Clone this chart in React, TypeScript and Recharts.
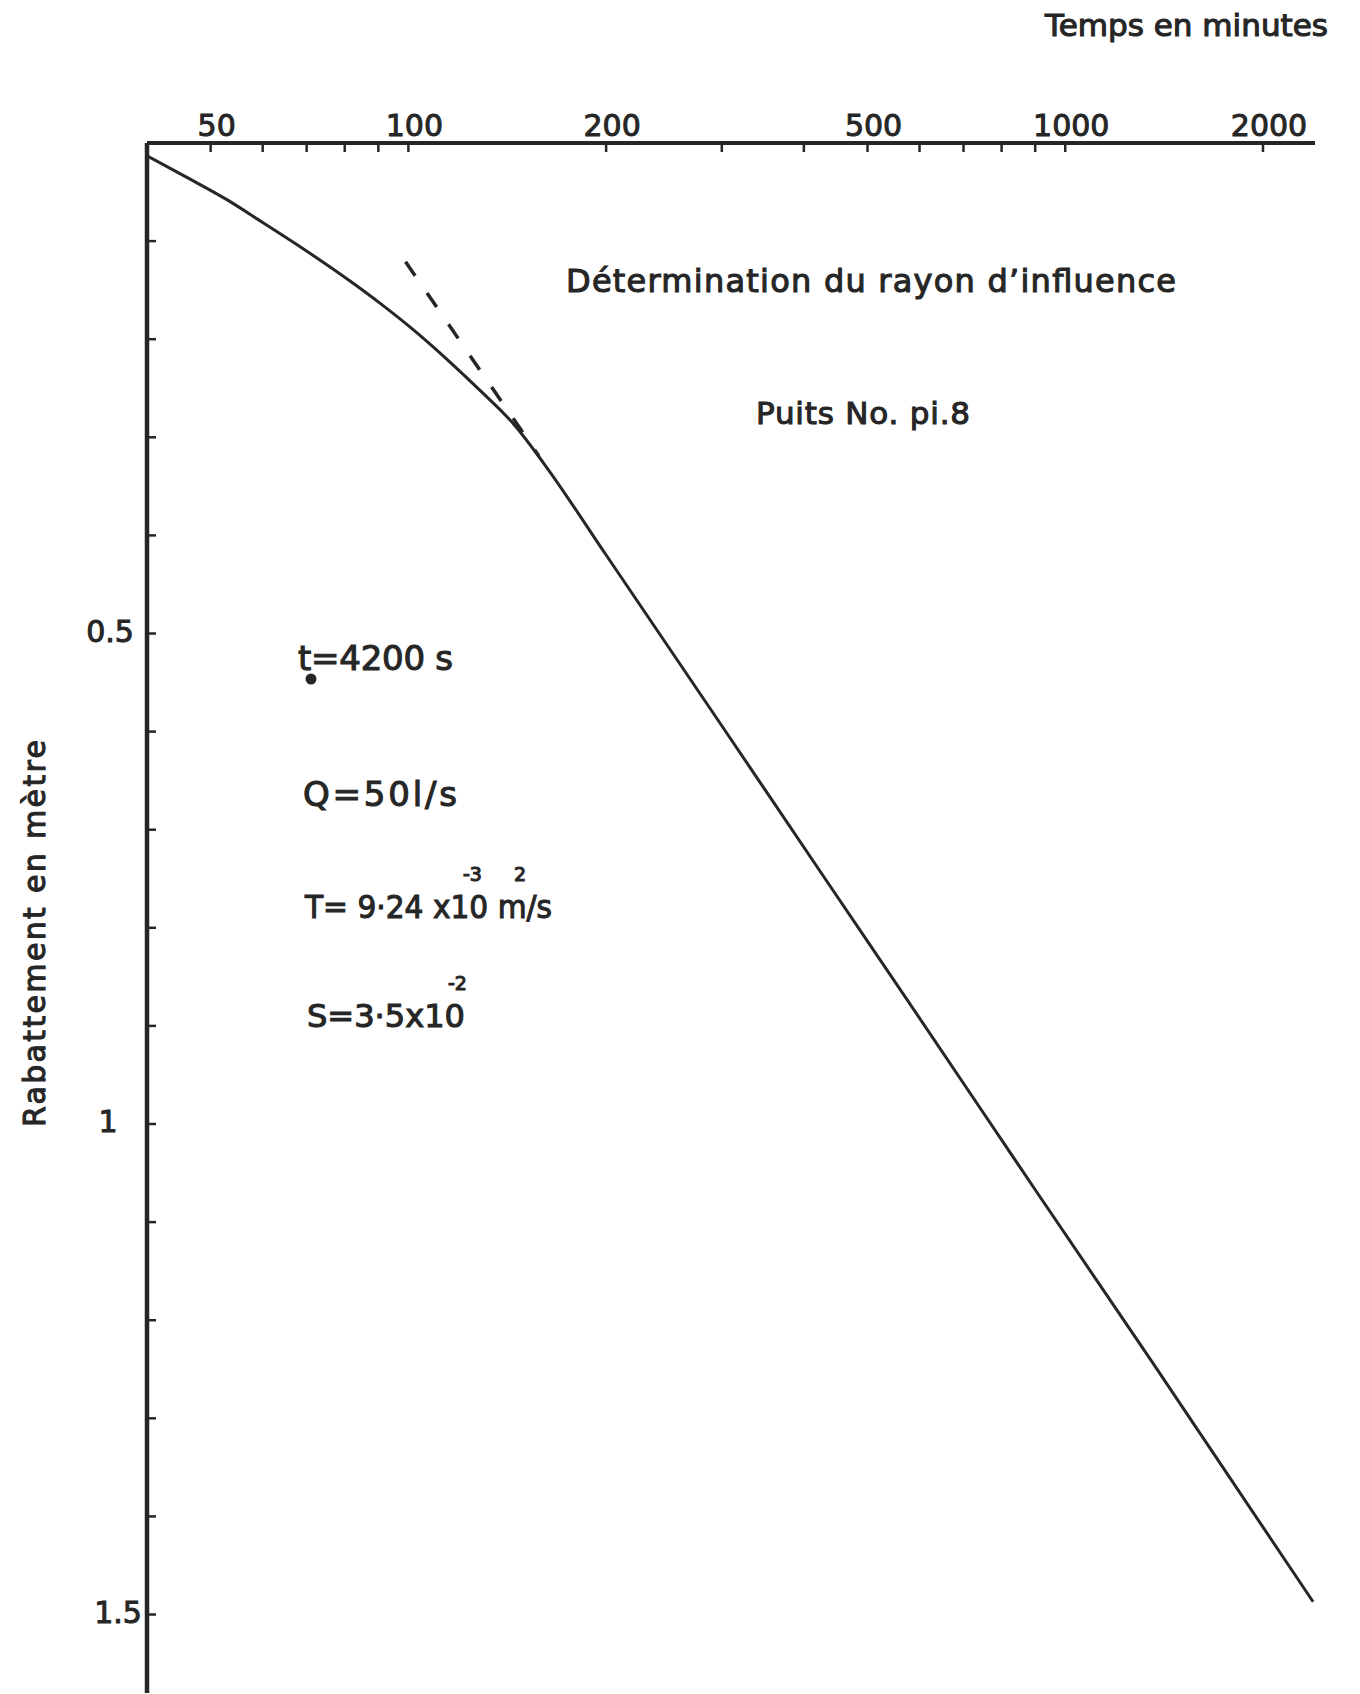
import { LineChart, Line, XAxis, YAxis } from 'recharts';

// courbe de rabattement (temps en minutes, rabattement en m)
const temps = [40, 46, 53, 60, 67.8, 82, 90.8, 102, 114.7, 128.9, 144.8, 160.9, 200, 300, 432, 600, 900, 1351, 2384];
const rabattement = [0.013, 0.035, 0.058, 0.081, 0.104, 0.142, 0.164, 0.191, 0.221, 0.253, 0.287, 0.327, 0.42, 0.594, 0.751, 0.892, 1.067, 1.241, 1.487];

// droite prolongee (tirets)
const tempsDroite = [99, 158];
const rabattementDroite = [0.121, 0.319];

const xTicks = [50, 60, 70, 80, 90, 100, 200, 300, 400, 500, 600, 700, 800, 900, 1000, 2000];
const xLabels = [50, 100, 200, 500, 1000, 2000];
const yTicks = [0.1, 0.2, 0.3, 0.4, 0.5, 0.6, 0.7, 0.8, 0.9, 1, 1.1, 1.2, 1.3, 1.4, 1.5];
const yLabels = [0.5, 1, 1.5];

const courbe = temps.map((t, i) => ({ t, d: rabattement[i] }));
const droite = tempsDroite.map((t, i) => ({ t, d: rabattementDroite[i] }));

const ink = '#262626';
const font = '"DejaVu Sans", sans-serif';

// hand lettering: labels are not exactly aligned
const yLabelX: Record<string, number> = { '0.5': 110, '1': 108, '1.5': 118 };

const XTick = (props: any) => {
    const { x, y, payload } = props;
    const show = xLabels.includes(payload.value);
    return (
        <g>
            <line x1={x} y1={y} x2={x} y2={y + 9} stroke={ink} strokeWidth={2.5} />
            {show && (
                <text x={x + 6} y={y - 7} textAnchor="middle" fontSize={30} fontFamily={font} fill={ink} stroke={ink} strokeWidth={1}>
                    {payload.value}
                </text>
            )}
        </g>
    );
};

const YTick = (props: any) => {
    const { x, y, payload } = props;
    const show = yLabels.includes(payload.value);
    const label = String(payload.value);
    return (
        <g>
            <line x1={x} y1={y} x2={x + 9} y2={y} stroke={ink} strokeWidth={2.5} />
            {show && (
                <text x={yLabelX[label] ?? 112} y={y + 8} textAnchor="middle" fontSize={30} fontFamily={font} fill={ink} stroke={ink} strokeWidth={1}>
                    {label}
                </text>
            )}
        </g>
    );
};

const txt = { fontFamily: font, fill: ink, stroke: ink, strokeWidth: 1.1 } as const;

export default function App() {
    return (
        <div style={{ position: 'absolute', left: 0, top: 0, width: 1360, height: 1694, background: '#fff' }}>
            <LineChart width={1360} height={1694} margin={{ top: 83, right: 45, bottom: 1, left: 67 }}>
                <XAxis
                    dataKey="t"
                    type="number"
                    scale="log"
                    domain={[40, 2400]}
                    allowDataOverflow
                    orientation="top"
                    height={60}
                    ticks={xTicks}
                    interval={0}
                    tickSize={0}
                    tickMargin={0}
                    tickLine={false}
                    tick={XTick}
                    axisLine={{ stroke: ink, strokeWidth: 4 }}
                />
                <YAxis
                    type="number"
                    domain={[0, 1.58]}
                    reversed
                    allowDataOverflow
                    width={80}
                    ticks={yTicks}
                    interval={0}
                    tickSize={0}
                    tickMargin={0}
                    tickLine={false}
                    tick={YTick}
                    axisLine={{ stroke: ink, strokeWidth: 4.5 }}
                />
                <Line data={courbe} dataKey="d" type="monotone" stroke={ink} strokeWidth={3} dot={false} isAnimationActive={false} />
                <Line data={droite} dataKey="d" type="linear" stroke={ink} strokeWidth={3.5} strokeDasharray="17 21" dot={false} isAnimationActive={false} />
            </LineChart>
            <svg width={1360} height={1694} style={{ position: 'absolute', left: 0, top: 0, pointerEvents: 'none' }}>
                <text x={1045} y={36} fontSize={30} textLength={283} lengthAdjust="spacingAndGlyphs" {...txt}>Temps en minutes</text>
                <text x={566} y={292} fontSize={32} textLength={610} lengthAdjust="spacing" {...txt}>Détermination du rayon d’influence</text>
                <text x={756} y={424} fontSize={31} textLength={214} lengthAdjust="spacing" {...txt}>Puits No. pi.8</text>
                <text x={298} y={670} fontSize={34} textLength={155} lengthAdjust="spacing" {...txt}>t=4200 s</text>
                <circle cx={311} cy={679} r={5.5} fill={ink} />
                <text x={303} y={806} fontSize={34} textLength={154} lengthAdjust="spacing" {...txt}>Q=50l/s</text>
                <text x={305} y={918} fontSize={32} textLength={247} lengthAdjust="spacingAndGlyphs" {...txt}>T= 9·24 x10 m/s</text>
                <text x={463} y={881} fontSize={19} {...txt}>-3</text>
                <text x={514} y={881} fontSize={19} {...txt}>2</text>
                <text x={307} y={1027} fontSize={32} textLength={158} lengthAdjust="spacingAndGlyphs" {...txt}>S=3·5x10</text>
                <text x={448} y={990} fontSize={19} {...txt}>-2</text>
                <text x={45} y={1127} transform="rotate(-90 45 1127)" fontSize={30} textLength={387} lengthAdjust="spacing" {...txt}>Rabattement en mètre</text>
            </svg>
        </div>
    );
}
